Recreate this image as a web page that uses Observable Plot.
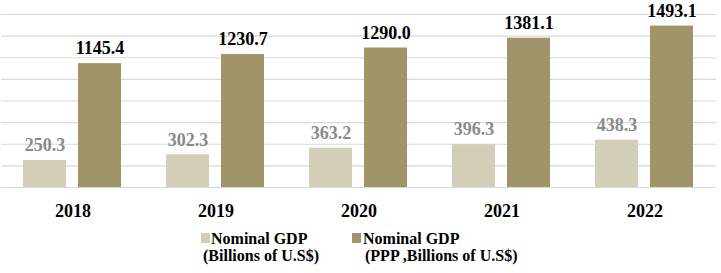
<!DOCTYPE html>
<html>
<head>
<meta charset="utf-8">
<script src="https://cdn.jsdelivr.net/npm/d3@7"></script>
<script src="https://cdn.jsdelivr.net/npm/@observablehq/plot@0.6"></script>
<style>
  body { margin: 0; background: #fff; font-family: "Liberation Serif", "Times New Roman", serif; }
  #chart svg { display: block; }
  .legend { position: relative; height: 51px; font-weight: bold; font-size: 16px; color: #000; }
  .item { position: absolute; top: 9px; line-height: 16.5px; }
  .sw { position: absolute; width: 9px; height: 10px; top: 2px; }
</style>
</head>
<body>
<div id="chart"></div>
<div class="legend" id="legend"></div>
<script>
const years = ["2018", "2019", "2020", "2021", "2022"];
const seriesNames = ["Nominal GDP (Billions of U.S$)", "Nominal GDP (PPP ,Billions of U.S$)"];
const nominal = [250.3, 302.3, 363.2, 396.3, 438.3];
const ppp = [1145.4, 1230.7, 1290.0, 1381.1, 1493.1];
const yTicks = [0, 200, 400, 600, 800, 1000, 1200, 1400, 1600];
const colors = ["#d3ceb7", "#a09568"];

const data = [];
years.forEach((y, i) => {
  data.push({year: y, series: seriesNames[0], value: nominal[i]});
  data.push({year: y, series: seriesNames[1], value: ppp[i]});
});

const chart = Plot.plot({
  width: 721,
  height: 222,
  marginTop: 14,
  marginBottom: 35,
  marginLeft: 0,
  marginRight: 4,
  style: {fontFamily: '"Liberation Serif", "Times New Roman", serif', background: "#fff"},
  fx: {domain: years, padding: 0, label: null},
  x: {domain: seriesNames, paddingInner: 0.214, paddingOuter: 0.387, axis: null},
  y: {domain: [0, 1600], axis: null},
  color: {domain: seriesNames, range: colors},
  marks: [
    Plot.ruleY(yTicks, {stroke: "#d9d9d9", strokeWidth: 1.2}),
    Plot.barY(data, {fx: "year", x: "series", y: "value", fill: "series"}),
    Plot.text(data, {
      fx: "year", x: "series", y: "value",
      text: d => d.value.toFixed(1),
      dy: -15,
      fontSize: 18,
      fontWeight: "bold",
      fill: d => d.series === seriesNames[0] ? "#8a8a8a" : "#000"
    }),
    Plot.axisFx({anchor: "bottom", tickSize: 0, tickPadding: 17, fontSize: 18, fontWeight: "bold", label: null, fill: "#000"})
  ]
});
document.getElementById("chart").appendChild(chart);

const legend = document.getElementById("legend");
const items = [
  {left: 201, label: ["Nominal GDP", "(Billions of U.S$)"], indent: [10, 2]},
  {left: 352, label: ["Nominal GDP", "(PPP ,Billions of U.S$)"], indent: [11, 13]}
];
items.forEach((it, i) => {
  const div = document.createElement("div");
  div.className = "item";
  div.style.left = it.left + "px";
  const sw = document.createElement("span");
  sw.className = "sw";
  sw.style.background = colors[i];
  sw.style.left = "0px";
  div.appendChild(sw);
  it.label.forEach((t, j) => {
    const line = document.createElement("div");
    line.style.paddingLeft = it.indent[j] + "px";
    line.style.whiteSpace = "nowrap";
    line.textContent = t;
    div.appendChild(line);
  });
  legend.appendChild(div);
});
</script>
</body>
</html>
